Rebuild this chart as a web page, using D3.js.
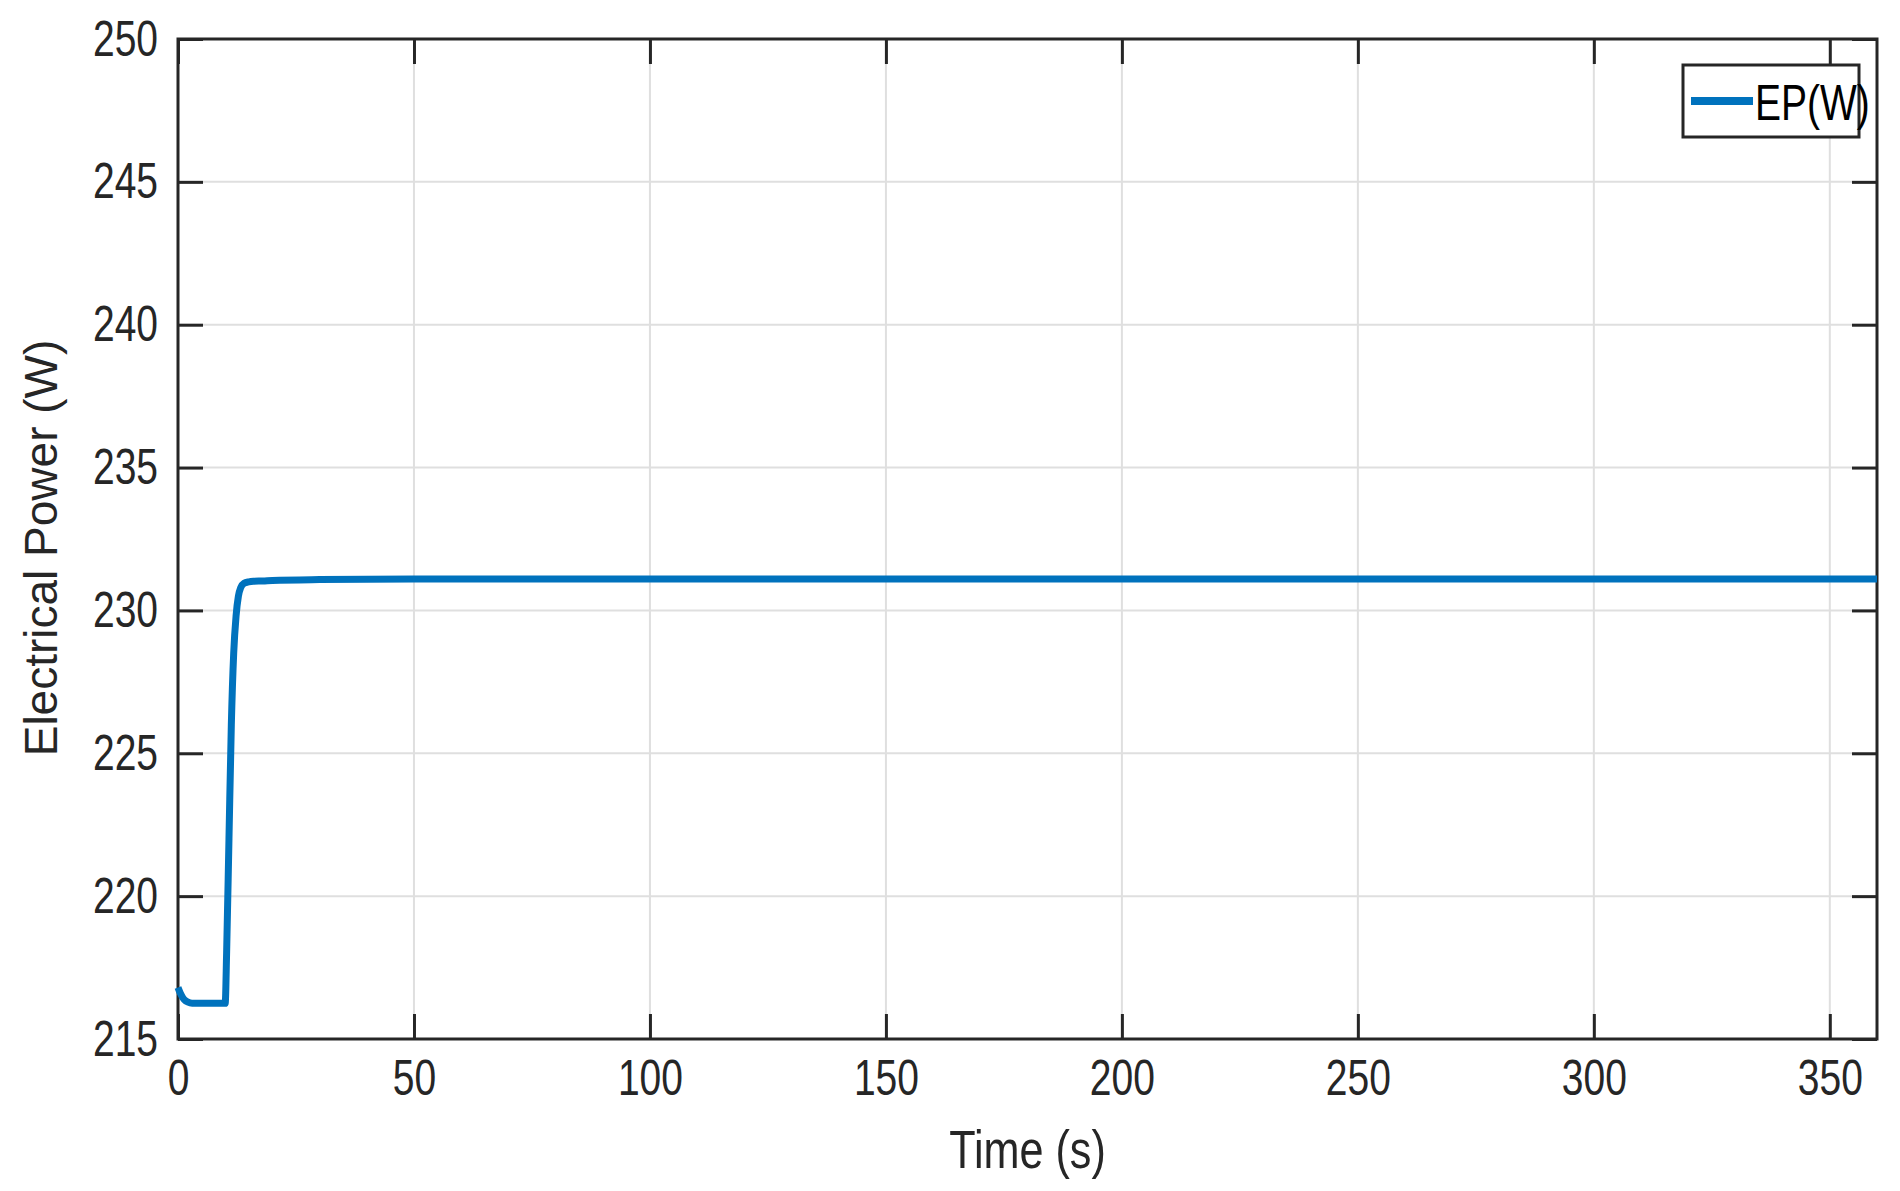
<!DOCTYPE html>
<html><head><meta charset="utf-8">
<script src="https://cdn.jsdelivr.net/npm/d3@7"></script>
<style>body{margin:0;background:#fff}text{font-family:"Liberation Sans",sans-serif;fill:#262626}</style>
</head><body><svg id="c" width="1900" height="1191"></svg>
<script>
const timeS = [0,0.5,1,1.5,2,3,4,6,8,10,10.3,10.8,11.3,11.8,12.3,12.8,13.3,14,15,16,18,20,30,50,100,200,300,360];
const powerW = [216.8,216.6,216.45,216.35,216.3,216.25,216.25,216.25,216.25,216.25,218,222,226,228.5,229.8,230.5,230.8,230.95,231.0,231.02,231.03,231.05,231.08,231.1,231.1,231.1,231.1,231.1];
const xTicks = [0,50,100,150,200,250,300,350];
const yTicks = [215,220,225,230,235,240,245,250];
const seriesName = "EP(W)";

const L=178,R=1877,T=39,B=1039;
const svg=d3.select("#c");
const x=d3.scaleLinear().domain([0,360]).range([L,R]);
const y=d3.scaleLinear().domain([215,250]).range([B,T]);
const g=svg.append("g");
g.selectAll(".gx").data(xTicks).join("line").attr("x1",d=>x(d)).attr("x2",d=>x(d)).attr("y1",T).attr("y2",B).attr("stroke","#dfdfdf").attr("stroke-width",2);
g.selectAll(".gy").data(yTicks).join("line").attr("y1",d=>y(d)).attr("y2",d=>y(d)).attr("x1",L).attr("x2",R).attr("stroke","#dfdfdf").attr("stroke-width",2);
const axB=svg.append("g").attr("transform",`translate(0,${B})`).call(d3.axisBottom(x).tickValues(xTicks).tickSize(-25).tickPadding(14).tickSizeOuter(0));
const axT=svg.append("g").attr("transform",`translate(0,${T})`).call(d3.axisTop(x).tickValues(xTicks).tickSize(-25).tickFormat("").tickSizeOuter(0));
const axL=svg.append("g").attr("transform",`translate(${L},0)`).call(d3.axisLeft(y).tickValues(yTicks).tickSize(-25).tickPadding(14).tickSizeOuter(0));
const axR=svg.append("g").attr("transform",`translate(${R},0)`).call(d3.axisRight(y).tickValues(yTicks).tickSize(-25).tickFormat("").tickSizeOuter(0));
[axB,axT,axL,axR].forEach(a=>{a.selectAll("path").remove();a.selectAll("line").attr("stroke","#262626").attr("stroke-width",3);a.selectAll("text").attr("font-size",50).attr("fill","#262626").style("font-family",'"Liberation Sans",sans-serif').attr("transform","scale(0.78,1)");});
axB.selectAll("text").attr("dy","0.85em");
axL.selectAll("text").attr("x",-20/0.78);
svg.append("rect").attr("x",L).attr("y",T).attr("width",R-L).attr("height",B-T).attr("fill","none").attr("stroke","#262626").attr("stroke-width",3);
svg.append("path").datum(timeS.map((t,i)=>[t,powerW[i]])).attr("d",d3.line().x(d=>x(d[0])).y(d=>y(d[1])).curve(d3.curveMonotoneX)).attr("fill","none").attr("stroke","#0072BD").attr("stroke-width",7);
svg.append("text").attr("transform",`translate(${(L+R)/2},1168) scale(0.8,1)`).attr("text-anchor","middle").attr("font-size",54).text("Time (s)");
svg.append("text").attr("transform","translate(57,548) rotate(-90)").attr("text-anchor","middle").attr("font-size",46).text("Electrical Power (W)");
svg.append("rect").attr("x",1683).attr("y",65).attr("width",176).attr("height",72).attr("fill","#fff").attr("stroke","#262626").attr("stroke-width",3);
svg.append("line").attr("x1",1691).attr("x2",1753).attr("y1",101).attr("y2",101).attr("stroke","#0072BD").attr("stroke-width",8);
svg.append("text").attr("transform","translate(1755,120) scale(0.78,1)").attr("font-size",50).attr("fill","#000").style("fill","#000").text(seriesName);
</script></body></html>
